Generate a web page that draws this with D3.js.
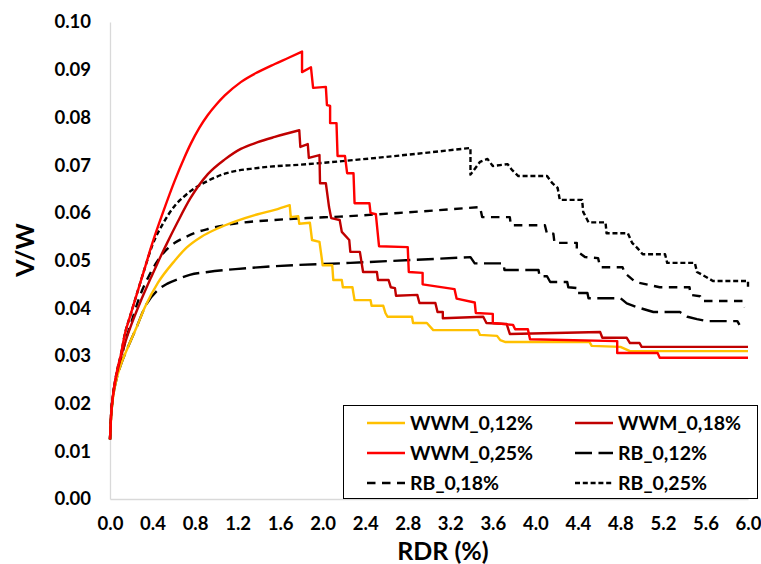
<!DOCTYPE html>
<html>
<head>
<meta charset="utf-8">
<script src="https://cdn.jsdelivr.net/npm/d3@7"></script>
<style>
  html, body { margin: 0; padding: 0; background: #fff; }
  svg { display: block; }
  text { font-family: Lato, "Open Sans", sans-serif; font-weight: bold; fill: #000; }
</style>
</head>
<body>
<svg id="chart" width="761" height="564"></svg>
<script>
// Shear ratio V/W against roof drift ratio RDR (%), [RDR, V/W] pairs.
const wwm012 = [
  [0,0.0125],[0.01,0.017],[0.03,0.0215],[0.06,0.025],[0.1,0.028],[0.17,0.0319],[0.25,0.036],
  [0.33,0.0403],[0.45,0.0453],[0.61,0.050],[0.72,0.0527],[0.86,0.055],[1.0,0.0566],[1.18,0.0582],
  [1.39,0.0597],[1.55,0.0606],[1.69,0.0616],
  [1.70,0.0591],[1.77,0.0593],[1.78,0.0577],[1.88,0.0579],[1.90,0.0543],[1.97,0.0539],[1.99,0.0507],
  [2.0,0.049],[2.09,0.049],[2.10,0.0459],[2.18,0.0459],[2.19,0.0444],[2.28,0.0444],[2.29,0.043],
  [2.30,0.0417],[2.45,0.0417],[2.46,0.0405],[2.57,0.0405],[2.59,0.039],[2.61,0.0382],[2.84,0.0382],
  [2.85,0.0369],[2.98,0.0369],[3.04,0.0354],[3.46,0.0354],[3.48,0.0344],[3.64,0.0342],[3.67,0.0333],
  [3.72,0.0329],[4.51,0.0329],[4.53,0.0321],[4.80,0.0319],[4.89,0.031],[6.0,0.031]
];
const wwm018 = [
  [0,0.0125],[0.01,0.0175],[0.03,0.022],[0.05,0.0248],[0.075,0.0272],[0.1,0.0295],[0.15,0.0333],
  [0.2,0.0365],[0.28,0.041],[0.385,0.0464],[0.45,0.0496],[0.54,0.0538],[0.63,0.0578],[0.755,0.0630],
  [0.92,0.0681],[1.08,0.0712],[1.23,0.0734],[1.39,0.0748],[1.55,0.0759],[1.78,0.0773],
  [1.79,0.0738],[1.86,0.0744],[1.87,0.0715],[1.97,0.0721],[1.975,0.0662],[2.03,0.0662],[2.06,0.0612],
  [2.08,0.0589],[2.16,0.0585],[2.18,0.056],[2.25,0.0543],[2.26,0.0518],[2.35,0.0518],[2.38,0.0476],
  [2.51,0.0476],[2.52,0.0459],[2.62,0.0459],[2.64,0.0444],[2.68,0.0442],[2.69,0.0426],[2.89,0.0428],
  [2.91,0.0411],[3.06,0.0411],[3.08,0.0392],[3.13,0.0392],[3.13,0.0379],[3.51,0.0382],[3.54,0.0369],
  [3.73,0.0367],[3.76,0.0346],[4.61,0.035],[4.63,0.0338],[4.86,0.0338],[4.89,0.0327],[4.98,0.0327],
  [5.0,0.0319],[6.0,0.0319]
];
const wwm025 = [
  [0,0.0125],[0.01,0.0175],[0.03,0.022],[0.05,0.025],[0.075,0.0278],[0.1,0.030],[0.14,0.0346],
  [0.19,0.0384],[0.235,0.0417],[0.28,0.045],[0.33,0.0486],[0.385,0.0527],[0.42,0.0551],[0.5,0.0602],
  [0.61,0.0668],[0.70,0.0716],[0.76,0.0745],[0.84,0.0778],[0.92,0.0805],[1.0,0.0827],[1.08,0.0846],
  [1.23,0.0874],[1.39,0.0895],[1.55,0.0912],[1.68,0.0925],[1.806,0.0938],
  [1.806,0.0895],[1.89,0.0905],[1.91,0.0862],[2.03,0.0864],[2.04,0.0826],[2.07,0.0824],[2.07,0.0788],
  [2.13,0.0788],[2.14,0.0719],[2.21,0.0719],[2.23,0.0683],[2.29,0.0683],[2.30,0.062],[2.44,0.062],
  [2.45,0.060],[2.50,0.0597],[2.53,0.053],[2.80,0.0528],[2.81,0.0476],[2.94,0.0474],[2.94,0.045],
  [3.24,0.044],[3.26,0.042],[3.43,0.0412],[3.44,0.039],[3.60,0.0388],[3.60,0.0369],[3.79,0.0365],
  [3.81,0.0356],[3.93,0.0356],[3.95,0.0335],[4.77,0.0331],[4.77,0.0306],[5.15,0.0306],[5.17,0.0296],
  [6.0,0.0296]
];
const rb012 = [
  [0,0.0125],[0.01,0.017],[0.03,0.0215],[0.06,0.025],[0.1,0.028],[0.17,0.0319],[0.25,0.036],
  [0.33,0.0403],[0.45,0.0438],[0.545,0.0452],[0.65,0.0462],[0.75,0.047],[0.92,0.0476],[1.18,0.0482],
  [1.47,0.0487],[2.26,0.0495],[3.39,0.0507],
  [3.43,0.0494],[3.70,0.0494],[3.71,0.048],[4.03,0.048],[4.04,0.0467],[4.11,0.0467],[4.14,0.0455],
  [4.30,0.0455],[4.31,0.0444],[4.40,0.0442],[4.40,0.0432],[4.49,0.0432],[4.50,0.0421],[4.80,0.0421],
  [4.86,0.041],[4.96,0.0402],[5.11,0.0392],[5.36,0.0392],[5.43,0.0382],[5.52,0.0377],[5.61,0.0373],
  [5.90,0.0373],[5.92,0.0365]
];
const rb018 = [
  [0,0.0125],[0.01,0.0175],[0.03,0.022],[0.06,0.0255],[0.1,0.029],[0.15,0.0335],[0.2,0.037],
  [0.28,0.0425],[0.36,0.0465],[0.45,0.050],[0.52,0.052],[0.61,0.0537],[0.70,0.0548],[0.80,0.0558],
  [0.92,0.0566],[1.06,0.0573],[1.23,0.0579],[1.55,0.0585],[1.86,0.0589],[2.16,0.0592],[2.8,0.0601],
  [3.48,0.0612],
  [3.50,0.0591],[3.76,0.0591],[3.77,0.0574],[4.09,0.0574],[4.11,0.0556],[4.17,0.0556],[4.18,0.0537],
  [4.39,0.0537],[4.39,0.052],[4.47,0.0507],[4.59,0.0505],[4.61,0.0486],[4.82,0.0486],[4.84,0.0474],
  [4.94,0.0455],[5.17,0.0444],[5.45,0.0444],[5.46,0.0428],[5.55,0.0425],[5.57,0.0415],[5.95,0.0415],
  [5.97,0.0402]
];
const rb025 = [
  [0,0.0125],[0.01,0.0175],[0.03,0.022],[0.05,0.025],[0.075,0.0278],[0.1,0.030],[0.14,0.0346],
  [0.19,0.0384],[0.235,0.0417],[0.28,0.045],[0.33,0.0486],[0.40,0.0533],[0.5,0.0578],[0.61,0.0615],
  [0.69,0.0633],[0.76,0.0646],[0.92,0.0667],[1.08,0.0682],[1.39,0.0694],[1.86,0.0702],[2.5,0.0715],
  [3.39,0.0736],
  [3.39,0.068],[3.48,0.0707],[3.55,0.0713],[3.60,0.0698],[3.74,0.0702],[3.78,0.0690],[3.84,0.0677],
  [4.11,0.0677],[4.16,0.0662],[4.21,0.0652],[4.23,0.0627],[4.44,0.0627],[4.45,0.0602],[4.50,0.058],
  [4.66,0.058],[4.67,0.0557],[4.87,0.0557],[4.91,0.0537],[4.96,0.0526],[5.01,0.0513],[5.22,0.0513],
  [5.24,0.0495],[5.50,0.0495],[5.52,0.0476],[5.61,0.0465],[5.67,0.0457],[6.0,0.0457],[6.0,0.0444]
];

const xTicks = [0.0,0.4,0.8,1.2,1.6,2.0,2.4,2.8,3.2,3.6,4.0,4.4,4.8,5.2,5.6,6.0];
const yTicks = [0.00,0.01,0.02,0.03,0.04,0.05,0.06,0.07,0.08,0.09,0.10];

const seriesNames = ["WWM_0,12%","WWM_0,18%","WWM_0,25%","RB_0,12%","RB_0,18%","RB_0,25%"];
const seriesData  = [wwm012, wwm018, wwm025, rb012, rb018, rb025];
const seriesColor = ["#FFC000","#C00000","#FF0000","#000000","#000000","#000000"];
const seriesDash  = [null, null, null, "17,6.5", "8.5,6.5", "5,2.8"];

const svg = d3.select("#chart");
const plotLeft = 110, plotRight = 748, plotTop = 22, plotBottom = 499;

const x = d3.scaleLinear().domain([0, 6]).range([plotLeft, plotRight]);
const y = d3.scaleLinear().domain([0, 0.10]).range([plotBottom, plotTop]);

// Axes: light grey baseline, no tick marks
const xAxis = svg.append("g").attr("transform", `translate(0,${plotBottom})`)
  .call(d3.axisBottom(x).tickValues(xTicks).tickFormat(d3.format(".1f")).tickSize(0).tickPadding(18));
const yAxis = svg.append("g").attr("transform", `translate(${plotLeft},0)`)
  .call(d3.axisLeft(y).tickValues(yTicks).tickFormat(d3.format(".2f")).tickSize(0).tickPadding(19));
[xAxis, yAxis].forEach(g => {
  g.select(".domain").attr("stroke", "#D9D9D9").attr("stroke-width", 1.3);
  g.selectAll("text").style("font-size", "18.5px").attr("fill", "#000");
});
xAxis.selectAll("text").attr("dy", "0.71em");

// Curves: the pre-peak branch is smooth, the post-peak branch is a stepped polyline
const smooth = d3.line().x(d => x(d[0])).y(d => y(d[1])).curve(d3.curveMonotoneX);
const poly = d3.line().x(d => x(d[0])).y(d => y(d[1])).curve(d3.curveLinear);
function curvePath(pts) {
  let k = 0;
  while (k + 1 < pts.length && pts[k + 1][1] >= pts[k][1] && pts[k + 1][0] > pts[k][0]) k++;
  const rise = smooth(pts.slice(0, k + 1));
  const rest = pts.slice(k);
  return rest.length > 1 ? rise + poly(rest).replace(/^M/, "L") : rise;
}
const drawOrder = [3, 4, 5, 0, 1, 2];
drawOrder.forEach(i => {
  svg.append("path")
    .attr("fill", "none")
    .attr("stroke", seriesColor[i])
    .attr("stroke-width", 2.4)
    .attr("stroke-linejoin", "round")
    .attr("stroke-dasharray", seriesDash[i])
    .attr("d", curvePath(seriesData[i]));
});

// Axis titles
svg.append("text").attr("x", 443).attr("y", 560).attr("text-anchor", "middle")
  .style("font-size", "25px").text("RDR (%)");
svg.append("text").attr("transform", "translate(34,250) rotate(-90)").attr("text-anchor", "middle")
  .style("font-size", "25px").text("V/W");

// Legend
const lg = svg.append("g");
lg.append("rect").attr("x", 343.5).attr("y", 405.5).attr("width", 414).attr("height", 93)
  .attr("fill", "#fff").attr("stroke", "#000").attr("stroke-width", 1);
const colX = [367, 575], rowY = [423, 453, 483];
seriesNames.forEach((name, i) => {
  const cx = colX[i % 2], cy = rowY[Math.floor(i / 2)];
  lg.append("line").attr("x1", cx).attr("x2", cx + 38).attr("y1", cy).attr("y2", cy)
    .attr("stroke", seriesColor[i]).attr("stroke-width", 2.4)
    .attr("stroke-dasharray", seriesDash[i]);
  lg.append("text").attr("x", cx + 43).attr("y", cy).attr("dy", "0.35em")
    .style("font-size", "19.5px").text(name);
});
</script>
</body>
</html>
